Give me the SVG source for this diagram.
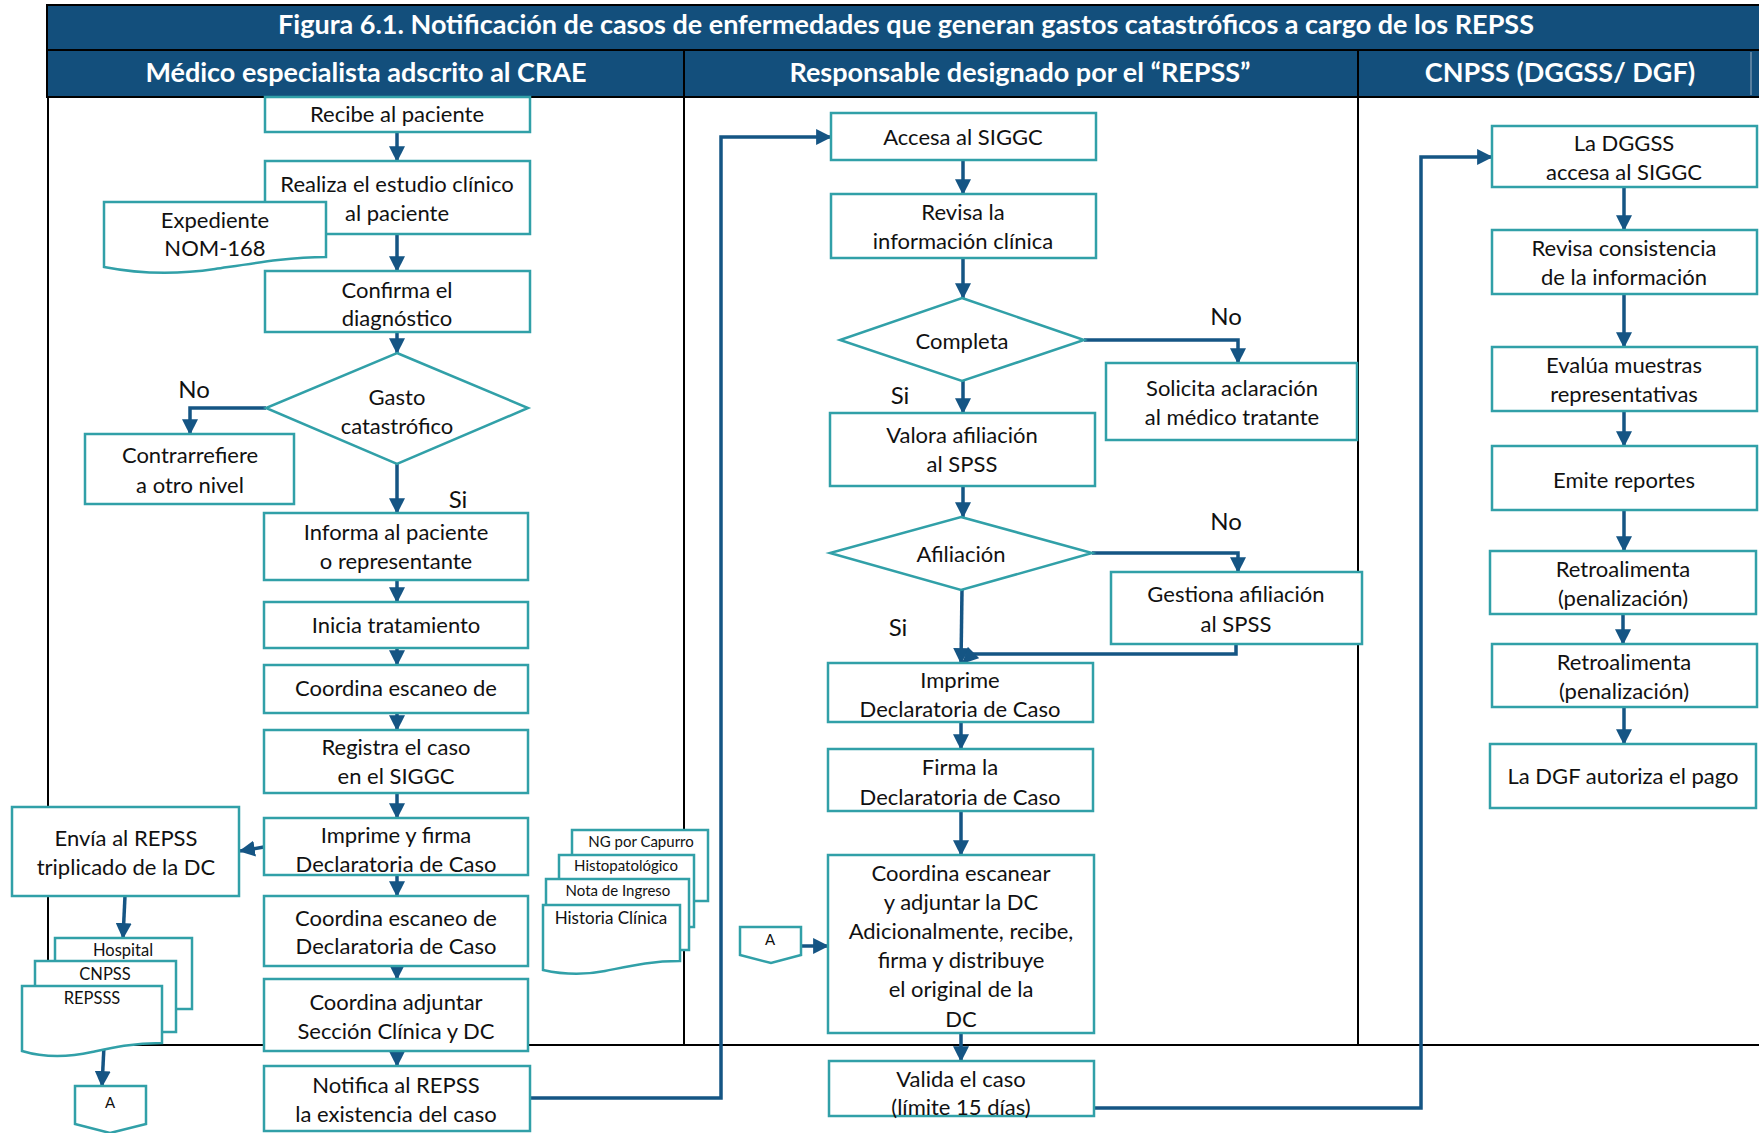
<svg xmlns="http://www.w3.org/2000/svg" width="1759" height="1133" viewBox="0 0 1759 1133">
  <style>
    .bg { fill: #ffffff; }
    .bar { fill: #134f7c; stroke: #000000; stroke-width: 2; }
    .lane { fill: none; stroke: #000000; stroke-width: 2; }
    .box { fill: #ffffff; stroke: #31a0a8; stroke-width: 2.5; }
    .t { font-family: Lato, "Liberation Sans", sans-serif; font-size: 22px; fill: #111111; text-anchor: middle; }
    .lbl { font-family: Lato, "Liberation Sans", sans-serif; font-size: 24px; fill: #111111; text-anchor: middle; }
    .small { font-family: Lato, "Liberation Sans", sans-serif; font-size: 15px; fill: #111111; text-anchor: middle; }
    .doc { font-family: Lato, "Liberation Sans", sans-serif; font-size: 16.5px; fill: #111111; text-anchor: middle; }
    .h1 { font-family: Lato, "Liberation Sans", sans-serif; font-size: 27px; font-weight: bold; fill: #ffffff; text-anchor: middle; }
    .h2 { font-family: Lato, "Liberation Sans", sans-serif; font-size: 27px; font-weight: bold; fill: #ffffff; text-anchor: middle; }
    .c { fill: none; stroke: #155584; stroke-width: 3.5; marker-end: url(#arr); }
  </style>
  <defs>
    <marker id="arr" markerUnits="userSpaceOnUse" markerWidth="16" markerHeight="16" viewBox="0 0 14 14" refX="13" refY="7" orient="auto">
      <path d="M0,0 L14,7 L0,14 Z" fill="#155584"/>
    </marker>
  </defs>

  <rect class="bg" x="0" y="0" width="1759" height="1133"/>

  <!-- Title and lane headers -->
  <g id="header">
    <rect class="bar" x="47" y="5" width="1714" height="45"/>
    <text class="h1" x="906" y="34">Figura 6.1. Notificación de casos de enfermedades que generan gastos catastróficos a cargo de los REPSS</text>
    <rect class="bar" x="47" y="50" width="1714" height="47"/>
    <line x1="684" y1="50" x2="684" y2="97" stroke="#000" stroke-width="2"/>
    <line x1="1358" y1="50" x2="1358" y2="97" stroke="#000" stroke-width="2"/>
    <line x1="1751" y1="52" x2="1751" y2="95" stroke="#6f8fab" stroke-width="1.5"/>
    <text class="h2" x="366" y="82">Médico especialista adscrito al CRAE</text>
    <text class="h2" x="1020" y="82">Responsable designado por el “REPSS”</text>
    <text class="h2" x="1560" y="82">CNPSS (DGGSS/ DGF)</text>
  </g>

  <!-- Swimlane frame -->
  <g id="lanes">
    <line class="lane" x1="48" y1="97" x2="48" y2="1045"/>
    <line class="lane" x1="684" y1="97" x2="684" y2="1045"/>
    <line class="lane" x1="1358" y1="97" x2="1358" y2="1045"/>
    <line class="lane" x1="47" y1="1045" x2="1759" y2="1045"/>
  </g>

  <!-- Connectors -->
  <g id="connectors">
    <!-- lane 1 -->
    <path class="c" d="M397,132 V161"/>
    <path class="c" d="M397,234 V271"/>
    <path class="c" d="M397,332 V353"/>
    <path class="c" d="M266,408 H190 V434"/>
    <path class="c" d="M397,464 V513"/>
    <path class="c" d="M397,580 V602"/>
    <path class="c" d="M397,648 V665"/>
    <path class="c" d="M397,713 V730"/>
    <path class="c" d="M397,793 V818"/>
    <path class="c" d="M264,847 L240,851"/>
    <path class="c" d="M397,875 V896"/>
    <path class="c" d="M397,966 V979"/>
    <path class="c" d="M397,1051 V1066"/>
    <path class="c" d="M125,896 L123,938"/>
    <path class="c" d="M104,1046 L102,1086"/>
    <path class="c" d="M530,1098 H721 V137 H831"/>
    <!-- lane 2 -->
    <path class="c" d="M963,160 V194"/>
    <path class="c" d="M963,258 V298"/>
    <path class="c" d="M1084,340 H1238 V363"/>
    <path class="c" d="M963,381 V413"/>
    <path class="c" d="M963,486 V517"/>
    <path class="c" d="M1092,553 H1238 V572"/>
    <path class="c" d="M962,590 L961,663"/>
    <path class="c" d="M1236,644 V654 H972 L963,663"/>
    <path class="c" d="M961,722 V749"/>
    <path class="c" d="M961,811 V855"/>
    <path class="c" d="M801,946 H828"/>
    <path class="c" d="M961,1033 V1061"/>
    <path class="c" d="M1094,1108 H1421 V157 H1492"/>
    <!-- lane 3 -->
    <path class="c" d="M1624,187 V230"/>
    <path class="c" d="M1624,294 V347"/>
    <path class="c" d="M1624,411 V446"/>
    <path class="c" d="M1624,510 V551"/>
    <path class="c" d="M1623,614 V644"/>
    <path class="c" d="M1624,707 V744"/>
  </g>

  <!-- Lane 1 nodes -->
  <g id="recibe">
    <rect class="box" x="265" y="97" width="265" height="35"/>
    <text class="t" x="397" y="122">Recibe al paciente</text>
  </g>
  <g id="realiza">
    <rect class="box" x="265" y="161" width="265" height="73"/>
    <text class="t" x="397" y="192">Realiza el estudio clínico</text>
    <text class="t" x="397" y="221">al paciente</text>
  </g>
  <g id="expediente">
    <path class="box" d="M104,202 H326 V257 C290,257 255,263 215,269 C175,275 140,274 104,267 Z"/>
    <text class="t" x="215" y="228">Expediente</text>
    <text class="t" x="215" y="256">NOM-168</text>
  </g>
  <g id="confirma">
    <rect class="box" x="265" y="271" width="265" height="61"/>
    <text class="t" x="397" y="298">Confirma el</text>
    <text class="t" x="397" y="326">diagnóstico</text>
  </g>
  <g id="gasto">
    <polygon class="box" points="397,353 528,408 397,464 266,408"/>
    <text class="t" x="397" y="405">Gasto</text>
    <text class="t" x="397" y="434">catastrófico</text>
  </g>
  <text class="lbl" x="194" y="398">No</text>
  <g id="contrarrefiere">
    <rect class="box" x="85" y="434" width="209" height="70"/>
    <text class="t" x="190" y="463">Contrarrefiere</text>
    <text class="t" x="190" y="493">a otro nivel</text>
  </g>
  <g id="informa">
    <rect class="box" x="264" y="513" width="264" height="67"/>
    <text class="t" x="396" y="540">Informa al paciente</text>
    <text class="t" x="396" y="569">o representante</text>
  </g>
  <text class="lbl" x="458" y="508">Si</text>
  <g id="inicia">
    <rect class="box" x="264" y="602" width="264" height="46"/>
    <text class="t" x="396" y="633">Inicia tratamiento</text>
  </g>
  <g id="coordina1">
    <rect class="box" x="264" y="665" width="264" height="48"/>
    <text class="t" x="396" y="696">Coordina escaneo de</text>
  </g>
  <g id="registra">
    <rect class="box" x="264" y="730" width="264" height="63"/>
    <text class="t" x="396" y="755">Registra el caso</text>
    <text class="t" x="396" y="784">en el SIGGC</text>
  </g>
  <g id="imprime1">
    <rect class="box" x="264" y="818" width="264" height="57"/>
    <text class="t" x="396" y="843">Imprime y firma</text>
    <text class="t" x="396" y="872">Declaratoria de Caso</text>
  </g>
  <g id="envia">
    <rect class="box" x="12" y="807" width="227" height="89"/>
    <text class="t" x="126" y="846">Envía al REPSS</text>
    <text class="t" x="126" y="875">triplicado de la DC</text>
  </g>
  <g id="coordina2">
    <rect class="box" x="264" y="896" width="264" height="70"/>
    <text class="t" x="396" y="926">Coordina escaneo de</text>
    <text class="t" x="396" y="954">Declaratoria de Caso</text>
  </g>
  <g id="adjuntar">
    <rect class="box" x="264" y="979" width="264" height="72"/>
    <text class="t" x="396" y="1010">Coordina adjuntar</text>
    <text class="t" x="396" y="1039">Sección Clínica y DC</text>
  </g>
  <g id="notifica">
    <rect class="box" x="264" y="1066" width="266" height="65"/>
    <text class="t" x="396" y="1093">Notifica al REPSS</text>
    <text class="t" x="396" y="1122">la existencia del caso</text>
  </g>

  <!-- Copies of the DC -->
  <g id="copias">
    <rect class="box" x="55" y="938" width="137" height="71"/>
    <text class="doc" x="123" y="956">Hospital</text>
    <rect class="box" x="35" y="961" width="141" height="71"/>
    <text class="doc" x="105" y="980">CNPSS</text>
    <path class="box" d="M22,986 H162 V1043 C130,1043 110,1048 92,1052 C70,1057 45,1058 22,1051 Z"/>
    <text class="doc" x="92" y="1004">REPSSS</text>
  </g>
  <g id="conector-a1">
    <path class="box" d="M75,1086 H146 V1124 L110,1133 L75,1124 Z"/>
    <text class="small" x="110" y="1108">A</text>
  </g>

  <!-- Clinical section documents -->
  <g id="seccion-clinica">
    <rect class="box" x="572" y="830" width="136" height="71"/>
    <text class="small" x="641" y="847">NG por Capurro</text>
    <rect class="box" x="559" y="855" width="135" height="72"/>
    <text class="small" x="626" y="871">Histopatológico</text>
    <rect class="box" x="546" y="879" width="143" height="71"/>
    <text class="small" x="618" y="896">Nota de Ingreso</text>
    <path class="box" d="M543,905 H680 V961 C650,961 630,966 605,971 C585,975 565,975 543,970 Z"/>
    <text class="doc" x="611" y="924" style="font-size:17px">Historia Clínica</text>
  </g>

  <!-- Lane 2 nodes -->
  <g id="accesa">
    <rect class="box" x="831" y="113" width="265" height="47"/>
    <text class="t" x="963" y="145">Accesa al SIGGC</text>
  </g>
  <g id="revisa">
    <rect class="box" x="831" y="194" width="265" height="64"/>
    <text class="t" x="963" y="220">Revisa la</text>
    <text class="t" x="963" y="249">información clínica</text>
  </g>
  <g id="completa">
    <polygon class="box" points="962,298 1084,340 962,381 840,340"/>
    <text class="t" x="962" y="349">Completa</text>
  </g>
  <text class="lbl" x="1226" y="325">No</text>
  <g id="solicita">
    <rect class="box" x="1106" y="363" width="251" height="77"/>
    <text class="t" x="1232" y="396">Solicita aclaración</text>
    <text class="t" x="1232" y="425">al médico tratante</text>
  </g>
  <text class="lbl" x="900" y="404">Si</text>
  <g id="valora">
    <rect class="box" x="830" y="413" width="265" height="73"/>
    <text class="t" x="962" y="443">Valora afiliación</text>
    <text class="t" x="962" y="472">al SPSS</text>
  </g>
  <g id="afiliacion">
    <polygon class="box" points="961,517 1092,553 961,590 830,553"/>
    <text class="t" x="961" y="562">Afiliación</text>
  </g>
  <text class="lbl" x="1226" y="530">No</text>
  <g id="gestiona">
    <rect class="box" x="1111" y="572" width="251" height="72"/>
    <text class="t" x="1236" y="602">Gestiona afiliación</text>
    <text class="t" x="1236" y="632">al SPSS</text>
  </g>
  <text class="lbl" x="898" y="636">Si</text>
  <g id="imprime2">
    <rect class="box" x="828" y="663" width="265" height="59"/>
    <text class="t" x="960" y="688">Imprime</text>
    <text class="t" x="960" y="717">Declaratoria de Caso</text>
  </g>
  <g id="firma">
    <rect class="box" x="828" y="749" width="265" height="62"/>
    <text class="t" x="960" y="775">Firma la</text>
    <text class="t" x="960" y="805">Declaratoria de Caso</text>
  </g>
  <g id="conector-a2">
    <path class="box" d="M740,927 H801 V955 L771,963 L740,955 Z"/>
    <text class="small" x="770" y="945">A</text>
  </g>
  <g id="escanear">
    <rect class="box" x="828" y="855" width="266" height="178"/>
    <text class="t" x="961" y="881">Coordina escanear</text>
    <text class="t" x="961" y="910">y adjuntar la DC</text>
    <text class="t" x="961" y="939">Adicionalmente, recibe,</text>
    <text class="t" x="961" y="968">firma y distribuye</text>
    <text class="t" x="961" y="997">el original de la</text>
    <text class="t" x="961" y="1027">DC</text>
  </g>
  <g id="valida">
    <rect class="box" x="829" y="1061" width="265" height="55"/>
    <text class="t" x="961" y="1087">Valida el caso</text>
    <text class="t" x="961" y="1115">(límite 15 días)</text>
  </g>

  <!-- Lane 3 nodes -->
  <g id="dggss">
    <rect class="box" x="1492" y="126" width="265" height="61"/>
    <text class="t" x="1624" y="151">La DGGSS</text>
    <text class="t" x="1624" y="180">accesa al SIGGC</text>
  </g>
  <g id="consistencia">
    <rect class="box" x="1492" y="230" width="265" height="64"/>
    <text class="t" x="1624" y="256">Revisa consistencia</text>
    <text class="t" x="1624" y="285">de la información</text>
  </g>
  <g id="evalua">
    <rect class="box" x="1492" y="347" width="265" height="64"/>
    <text class="t" x="1624" y="373">Evalúa muestras</text>
    <text class="t" x="1624" y="402">representativas</text>
  </g>
  <g id="emite">
    <rect class="box" x="1492" y="446" width="265" height="64"/>
    <text class="t" x="1624" y="488">Emite reportes</text>
  </g>
  <g id="retro1">
    <rect class="box" x="1490" y="551" width="266" height="63"/>
    <text class="t" x="1623" y="577">Retroalimenta</text>
    <text class="t" x="1623" y="606">(penalización)</text>
  </g>
  <g id="retro2">
    <rect class="box" x="1492" y="644" width="265" height="63"/>
    <text class="t" x="1624" y="670">Retroalimenta</text>
    <text class="t" x="1624" y="699">(penalización)</text>
  </g>
  <g id="dgf">
    <rect class="box" x="1490" y="744" width="266" height="64"/>
    <text class="t" x="1623" y="784">La DGF autoriza el pago</text>
  </g>
</svg>
